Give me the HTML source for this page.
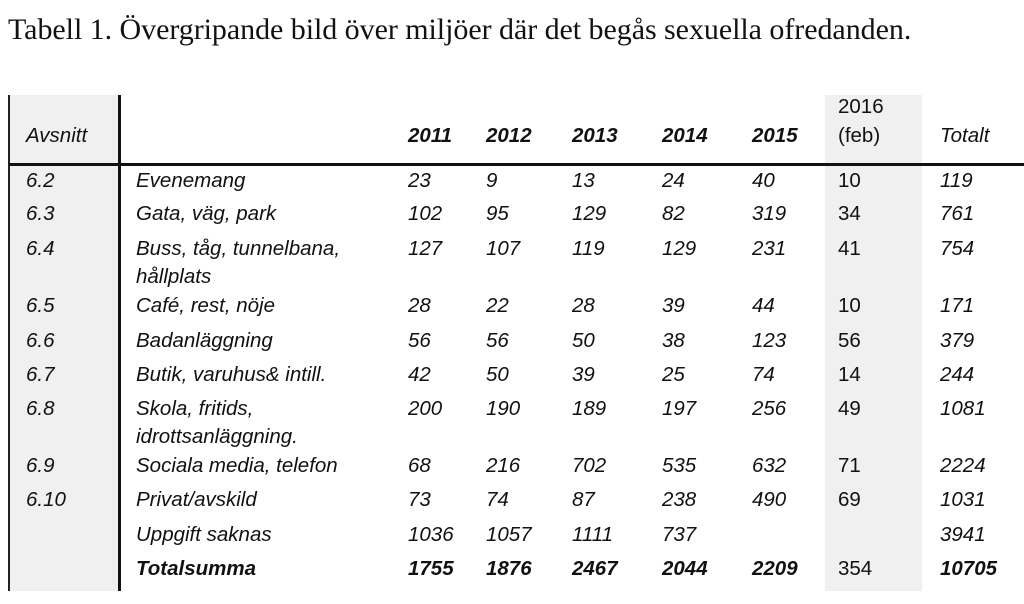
<!DOCTYPE html>
<html><head><meta charset="utf-8"><style>
body{margin:0;width:1024px;height:604px;background:#fff;position:relative;overflow:hidden;font-family:"Liberation Sans",sans-serif;color:#111}
.t{position:absolute;font-size:20.5px;font-style:italic;line-height:1;white-space:nowrap}
.b{font-weight:bold}
.n{font-style:normal}
.title{position:absolute;left:8px;top:13px;font-family:"Liberation Serif",serif;font-size:30px;white-space:nowrap;letter-spacing:-0.05px}
</style></head><body>
<div class="title">Tabell 1. Övergripande bild över miljöer där det begås sexuella ofredanden.</div>
<div style="position:absolute;left:9px;top:95px;width:110px;height:496px;background:#f0f0f0"></div>
<div style="position:absolute;left:825px;top:95px;width:97px;height:496px;background:#f0f0f0"></div>
<div style="position:absolute;left:8px;top:95px;width:2px;height:496px;background:#222"></div>
<div style="position:absolute;left:118px;top:95px;width:3px;height:496px;background:#111"></div>
<div style="position:absolute;left:9px;top:163px;width:1015px;height:3px;background:#111"></div>
<div id="c"></div>
<script>
var rows=[
["6.2","Evenemang","23","9","13","24","40","10","119",181],
["6.3","Gata, väg, park","102","95","129","82","319","34","761",214],
["6.4","Buss, tåg, tunnelbana,","127","107","119","129","231","41","754",249],
["","hållplats","","","","","","","",277],
["6.5","Café, rest, nöje","28","22","28","39","44","10","171",306],
["6.6","Badanläggning","56","56","50","38","123","56","379",341],
["6.7","Butik, varuhus& intill.","42","50","39","25","74","14","244",375],
["6.8","Skola, fritids,","200","190","189","197","256","49","1081",409],
["","idrottsanläggning.","","","","","","","",437],
["6.9","Sociala media, telefon","68","216","702","535","632","71","2224",466],
["6.10","Privat/avskild","73","74","87","238","490","69","1031",500],
["","Uppgift saknas","1036","1057","1111","737","","","3941",535],
["","Totalsumma","1755","1876","2467","2044","2209","354","10705",569]];
var xs=[26,136,408,486,572,662,752,838,940];
var h="";
function t(x,y,s,c){h+='<div class="t '+(c||'')+'" style="left:'+x+'px;top:'+(y-10)+'px">'+s+'</div>';}
t(26,136,"Avsnitt");
["2011","2012","2013","2014","2015"].forEach(function(s,i){t(xs[i+2],136,s,"b");});
t(838,107,"2016","n");t(838,136,"(feb)","n");t(940,136,"Totalt");
rows.forEach(function(r,ri){var bold=ri==rows.length-1;
for(var i=0;i<9;i++){if(!r[i])continue;var c=(i==7)?"n":"";if(bold&&i!=7)c+=" b";t(xs[i],r[9],r[i],c);}});
document.getElementById("c").innerHTML=h;
</script>
</body></html>
